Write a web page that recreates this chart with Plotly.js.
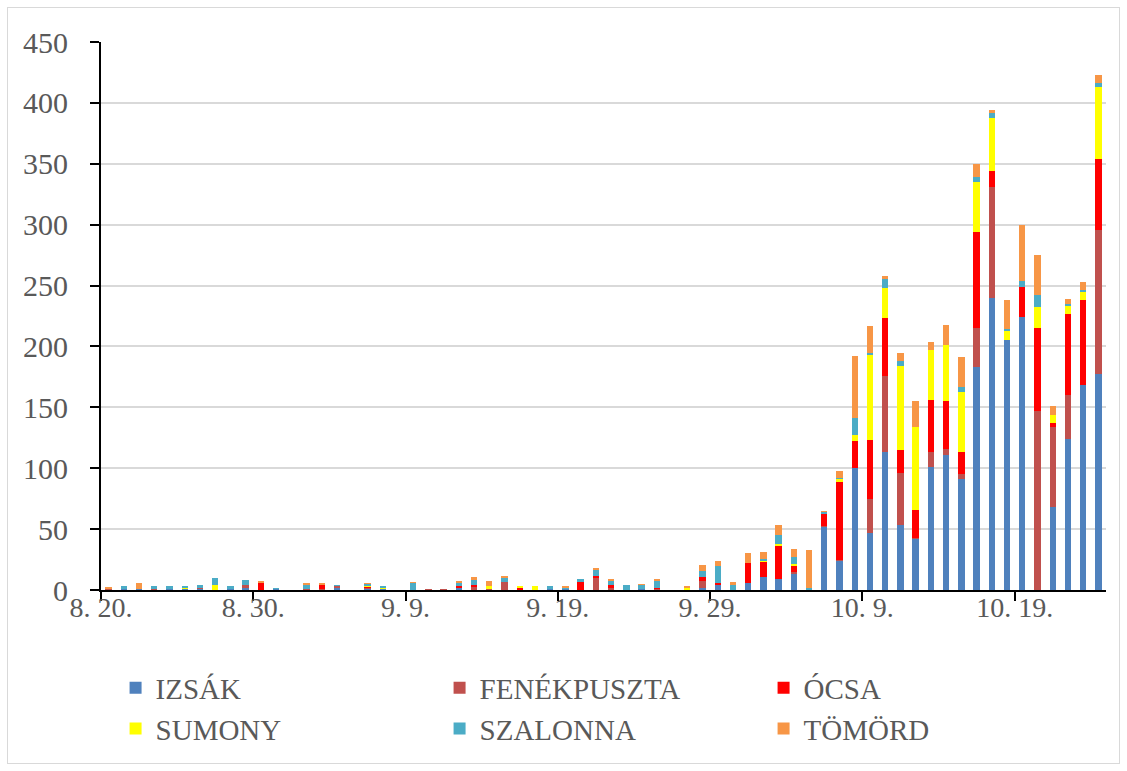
<!DOCTYPE html>
<html>
<head>
<meta charset="utf-8">
<script src="https://cdn.plot.ly/plotly-3.0.1.min.js"></script>
<style>
  html, body { margin: 0; padding: 0; background: #ffffff; }
  #chart { width: 1127px; height: 771px; }
  #frame { position: absolute; left: 7px; top: 7px; width: 1111px; height: 755px;
           border: 1.5px solid #d9d9d9; pointer-events: none; }
</style>
</head>
<body>
<div id="chart"></div>
<div id="frame"></div>
<script>
// Days 8.20 .. 10.25
const dates = [
  '8.20','8.21','8.22','8.23','8.24','8.25','8.26','8.27','8.28','8.29',
  '8.30','8.31','9.1','9.2','9.3','9.4','9.5','9.6','9.7','9.8',
  '9.9','9.10','9.11','9.12','9.13','9.14','9.15','9.16','9.17','9.18',
  '9.19','9.20','9.21','9.22','9.23','9.24','9.25','9.26','9.27','9.28',
  '9.29','9.30','10.1','10.2','10.3','10.4','10.5','10.6','10.7','10.8',
  '10.9','10.10','10.11','10.12','10.13','10.14','10.15','10.16','10.17','10.18',
  '10.19','10.20','10.21','10.22','10.23','10.24'
];

const tickLabels = ['8. 20.', '8. 30.', '9. 9.', '9. 19.', '9. 29.', '10. 9.', '10. 19.'];
const tickDates  = ['8.20', '8.30', '9.9', '9.19', '9.29', '10.9', '10.19'];

const izsak = [
  0,0.5,0.5,0,0.5,0.5,0.5,0,0.5,2,
  0,0.5,0,0,0,2,0,1,0.5,0,
  0,0,0,2,0,0,0,0,0,1,
  0.5,0,0,0,0,0.5,0,0,0,2,
  4.5,0,6,11,9,13,0,52,24,100,
  47,113,53,42,101,111,91,183,240,205,
  224,0,68,124,168,177
];
const fenekpuszta = [
  1,0,0.5,1,0,0,1,0,0,2,
  0,0,0,1,1,1.5,0,0.5,0,0,
  0,0.5,0.5,0,2.5,1,6.5,0,0,0,
  0,0,9.5,2,0,0,1,0,0,5,
  0,0,0,0,0,1.5,0,0.5,1,0,
  28,63,43,1,12,5,4,32,91,0,
  0,147,66,36,0,119
];
const ocsa = [
  0,0,0,0,0,0,0,0,0,0,
  5.5,0,0,0,3,0,0,1,0,0,
  0,0,0,1.5,2,0,0,1.5,0,0,
  0,6.5,2,2.5,0,0,1,0,0,4,
  1,0,16.5,12,27.5,5.5,0,10,64,22,
  48,47,19,23,43,39,18,79,13,0,
  25,68.5,3,67,70,58
];
const sumony = [
  0,0,0,0,0,1,0,4.5,0,0,
  0,0,0.3,0,0,0,0,1,1,0.3,
  0,0,0,0,0,2,0,2,3,0,
  0,0,0,0,0,0,0,0,1.5,0,
  0,0,0,1,1,1.5,0,0,2,5,
  70,25,69,68,41,46,50,41,44,8,
  0,16.5,7,6,7,59
];
const szalonna = [
  0,2.5,0,2,2.5,2,3,5,3,4.5,
  0,1,0,3,0,1,0,1.5,2,0,
  5.5,0,0,2,4,0,3.5,0,0,2,
  1.5,2.5,5,3,4.5,3.5,5.5,0,0,5,
  14,4.5,0,1.5,7.5,5.5,2,1.5,1,14,
  2,7,4,0,0,0,4,4,3.5,1.5,
  5,10,0,2,1,3
];
const tomord = [
  1.5,0,4.5,0,0,0,0,0,0,0,
  1.5,0,0,1.5,1.5,0,0,1,0,0,
  1,0,0,1.5,2,4,1.5,0,0,0,
  1.5,0,1.5,1.5,0,1,1.5,0,1.5,4.5,
  4,2,7.5,5.5,8,7,31,1,6,51,
  22,3,7,21,7,17,24,11,3,24,
  46,33,7,4,7,7
];

const seriesNames  = ['IZSÁK', 'FENÉKPUSZTA', 'ÓCSA', 'SUMONY', 'SZALONNA', 'TÖMÖRD'];
const seriesValues = [izsak, fenekpuszta, ocsa, sumony, szalonna, tomord];
const seriesColors = ['#4F81BD', '#C0504D', '#FF0000', '#FFFF00', '#4BACC6', '#F79646'];

const xIdx = dates.map((d, i) => i);
const traces = seriesNames.map((name, k) => ({
  type: 'bar',
  name: name,
  x: xIdx,
  y: seriesValues[k],
  width: 0.42,
  marker: { color: seriesColors[k], line: { width: 0 } },
  hovertext: dates,
}));

const tickVals = tickDates.map(d => dates.indexOf(d) - 0.5);

const serif = 'Liberation Serif, Times New Roman, serif';

const layout = {
  width: 1127, height: 771,
  margin: { l: 101, r: 21, t: 42, b: 180.5, pad: 0 },
  paper_bgcolor: '#ffffff',
  plot_bgcolor: '#ffffff',
  barmode: 'stack',
  font: { family: serif, color: '#595959' },
  showlegend: true,
  xaxis: {
    type: 'linear',
    range: [-0.5, dates.length - 0.5],
    tickmode: 'array',
    tickvals: tickVals,
    ticktext: tickLabels,
    ticks: 'outside', ticklen: 9, tickwidth: 2, tickcolor: '#000000',
    showline: true, linecolor: '#000000', linewidth: 2,
    showgrid: false, zeroline: false,
    tickfont: { family: serif, color: '#595959', size: 28 },
    ticklabelstandoff: -18,
    fixedrange: true,
  },
  yaxis: {
    range: [0, 450],
    dtick: 50, tick0: 0,
    ticks: 'outside', ticklen: 9, tickwidth: 2, tickcolor: '#000000',
    showline: true, linecolor: '#000000', linewidth: 2,
    showgrid: true, gridcolor: '#d9d9d9', gridwidth: 2,
    zeroline: false,
    tickfont: { family: serif, color: '#595959', size: 30 },
    ticklabelstandoff: 16,
    fixedrange: true,
  },
  legend: {
    orientation: 'h',
    x: 0.0145, xanchor: 'left',
    y: -0.132, yanchor: 'top',
    entrywidth: 279, entrywidthmode: 'pixels',
    font: { family: serif, color: '#595959', size: 29 },
    itemwidth: 30,
    bgcolor: 'rgba(0,0,0,0)',
    traceorder: 'normal',
  },
};

Plotly.newPlot('chart', traces, layout, { displayModeBar: false, staticPlot: true });
</script>
</body>
</html>
